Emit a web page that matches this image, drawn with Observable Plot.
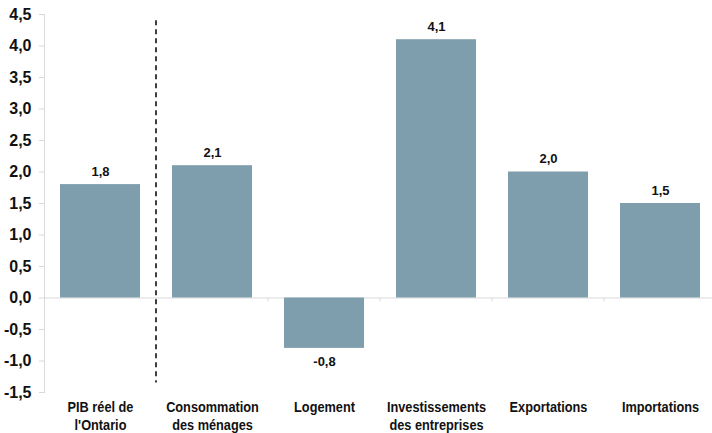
<!DOCTYPE html>
<html><head><meta charset="utf-8">
<script src="https://cdn.jsdelivr.net/npm/d3@7"></script>
<script src="https://cdn.jsdelivr.net/npm/@observablehq/plot@0.6"></script>
<style>body{margin:0;background:#fff;font-family:Arial,"Liberation Sans",sans-serif;}
svg text{font-family:Arial,"Liberation Sans",sans-serif;}</style>
</head><body><div id="chart"></div>
<script>
const categories = ["PIB réel de\nl'Ontario", "Consommation\ndes ménages", "Logement", "Investissements\ndes entreprises", "Exportations", "Importations"];
const values = [1.8, 2.1, -0.8, 4.1, 2.0, 1.5];
const yTicks = [-1.5, -1.0, -0.5, 0, 0.5, 1.0, 1.5, 2.0, 2.5, 3.0, 3.5, 4.0, 4.5];

const data = categories.map((c, i) => ({cat: c, value: values[i]}));
const fmt = d => d.toFixed(1).replace(".", ",");

function extras(index, scales, values_, dims) {
  const x = scales.x, y = scales.y;
  const bw = x.bandwidth ? x.bandwidth() : 0;
  const g = d3.create("svg:g");
  const bounds = [];
  for (let i = 0; i < categories.length - 1; i++) {
    bounds.push(((x(categories[i]) + bw) + x(categories[i + 1])) / 2);
  }
  for (const b of bounds) {
    g.append("line").attr("x1", b).attr("x2", b).attr("y1", y(0)).attr("y2", y(0) + 4)
      .attr("stroke", "#d9d9d9").attr("stroke-width", 1);
  }
  g.append("line").attr("x1", bounds[0]).attr("x2", bounds[0])
    .attr("y1", y(4.4)).attr("y2", y(-1.35))
    .attr("stroke", "#000").attr("stroke-width", 1.5).attr("stroke-dasharray", "5,4");
  return g.node();
}

const chart = Plot.plot({
  width: 712,
  height: 433,
  marginLeft: 44,
  marginRight: -4,
  marginTop: 14,
  marginBottom: 41,
  style: {fontFamily: "Arial, 'Liberation Sans', sans-serif", background: "#fff"},
  x: {domain: categories, paddingInner: 0.286, paddingOuter: 0.143, label: null},
  y: {domain: [-1.5, 4.5], label: null},
  marks: [
    Plot.ruleY([0], {stroke: "#d9d9d9", strokeWidth: 1}),
    Plot.barY(data, {x: "cat", y: "value", fill: "#7f9ead"}),
    Plot.frame({anchor: "left", stroke: "#d9d9d9"}),
    Plot.axisY({ticks: yTicks, tickFormat: fmt, tickSize: 5, tickPadding: 8, stroke: "#d9d9d9", fill: "#111", fontSize: 16, fontWeight: "bold", label: null}),
    Plot.axisX({tickSize: 0, tickPadding: 7, fontSize: 15, fontWeight: "bold", fill: "#111", lineHeight: 1.17, label: null, className: "xlab"}),
    Plot.text(data.filter(d => d.value >= 0), {x: "cat", y: "value", text: d => fmt(d.value), dy: -9, lineAnchor: "bottom", fontSize: 13, fontWeight: "bold", fill: "#111"}),
    Plot.text(data.filter(d => d.value < 0), {x: "cat", y: "value", text: d => fmt(d.value), dy: 8, lineAnchor: "top", fontSize: 13, fontWeight: "bold", fill: "#111"}),
    extras
  ]
});
d3.select(chart).selectAll(".xlab text").attr("transform", function() {
  return (this.getAttribute("transform") || "") + " scale(0.85,1)";
});
document.getElementById("chart").appendChild(chart);
</script></body></html>
